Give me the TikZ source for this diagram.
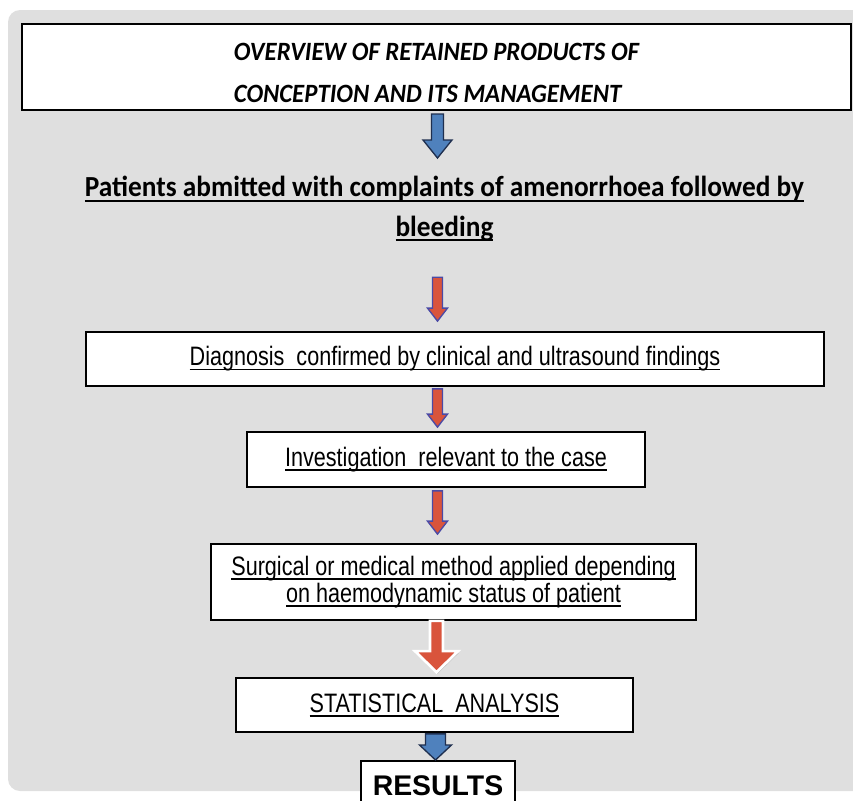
\documentclass[tikz,border=0pt]{standalone}
\usepackage{fontspec}
\setmainfont{Carlito}
\newfontfamily\slidefont[FakeStretch=0.94]{Carlito}
\newfontfamily\narrowfont[FakeStretch=0.81]{Liberation Sans}
\newfontfamily\arialfont{Liberation Sans}
\usetikzlibrary{calc,shadows}
\newcommand{\px}{0.75pt}
\definecolor{slidegray}{HTML}{DFDFDF}
\definecolor{arrowblue}{HTML}{4F81BD}
\definecolor{arrowedge}{HTML}{1F2F4F}
\definecolor{arrowred}{HTML}{D9543C}
\definecolor{arrowpurple}{HTML}{4A4AA6}
% underlined line of text
\newcommand{\uln}[1]{\setbox0\hbox{#1}\rlap{\rule[-0.17em]{\wd0}{1.3pt}}\box0}
% block arrow: style, start, end, shaft half width, head half width, head length
\newcommand{\blockarrow}[6]{%
    \path[#1] ($(#2)+(-#4,0)$) -- ($(#2)+(#4,0)$) -- ($(#3)+(#4,-#6)$) -- ($(#3)+(#5,-#6)$)
        -- (#3) -- ($(#3)+(-#5,-#6)$) -- ($(#3)+(-#4,-#6)$) -- cycle;}

\begin{document}
\begin{tikzpicture}[x=\px,y=-\px,
    box/.style={draw=black,line width=1.3pt,fill=white,inner sep=0pt,align=center,
        font=\narrowfont\fontsize{20}{20.5}\selectfont},
    bluearrow/.style={fill=arrowblue,draw=arrowedge,line width=1pt},
    redarrow/.style={fill=arrowred,draw=arrowpurple,line width=1pt},
    bigredarrow/.style={fill=arrowred,draw=white,line width=2pt,
        drop shadow={opacity=0.35,shadow xshift=0.8pt,shadow yshift=-1.2pt}}]
    \useasboundingbox (0,0) rectangle (853,800);
    \clip (0,0) rectangle (853,800);
    \fill[slidegray,rounded corners=9pt] (8,10) rectangle (880,791);

    \node[box,line width=1.6pt,minimum width=829*\px,minimum height=86*\px,
        font=\slidefont\bfseries\itshape\fontsize{19.8}{31.5}\selectfont] (title) at (436.5,67)
        {\raisebox{-4.3pt}[\height][\depth]{\begin{tabular}{@{}l@{}}OVERVIEW OF RETAINED PRODUCTS OF\\CONCEPTION AND ITS MANAGEMENT\end{tabular}}};
    \node[inner sep=0pt,align=center,font=\slidefont\bfseries\fontsize{21.8}{29.5}\selectfont,anchor=north] (patients) at (444.5,176)
        {\uln{Patients abmitted with complaints of amenorrhoea followed by}\\\uln{bleeding}};
    \node[box,minimum width=738*\px,minimum height=54*\px] (diag) at (455,359)
        {\uln{Diagnosis\ \ confirmed by clinical and ultrasound findings}};
    \node[box,minimum width=398*\px,minimum height=55*\px] (invest) at (446,459.5)
        {\uln{Investigation\ \ relevant to the case}};
    \node[box,minimum width=485*\px,minimum height=76*\px] (method) at (453.5,582)
        {\uln{Surgical or medical method applied depending}\\\uln{on haemodynamic status of patient}};
    \node[box,minimum width=397*\px,minimum height=54*\px] (stats) at (434.5,705)
        {\uln{STATISTICAL\ \ ANALYSIS}};
    \node[box,anchor=north,minimum width=154*\px,minimum height=60*\px,text depth=8pt,
        font=\arialfont\bfseries\fontsize{21.3}{24}\selectfont] (results) at (438,760) {RESULTS};

    % arrows between the steps
    \coordinate (axis) at (437.5,0);
    \coordinate (a1s) at ($(axis|-title.south)+(0,3)$);
    \coordinate (a1e) at ($(axis|-patients.north)+(0,-18)$);
    \coordinate (a2s) at ($(axis|-patients.south)+(0,36)$);
    \coordinate (a2e) at ($(axis|-diag.north)+(0,-10)$);
    \coordinate (a3s) at ($(axis|-diag.south)+(0,2)$);
    \coordinate (a3e) at ($(axis|-invest.north)+(0,-4)$);
    \coordinate (a4s) at ($(axis|-invest.south)+(0,3)$);
    \coordinate (a4e) at ($(axis|-method.north)+(0,-9)$);
    \coordinate (a5s) at ($(axis|-method.south)+(-1,0)$);
    \coordinate (a5e) at ($(axis|-stats.north)+(-1,-5)$);
    \coordinate (a6s) at ($(axis|-stats.south)+(-2,1)$);
    \coordinate (a6e) at ($(axis|-results.north)+(-2,0)$);
    \blockarrow{bluearrow}{a1s}{a1e}{6}{14.5}{18}
    \blockarrow{redarrow}{a2s}{a2e}{5}{10}{13}
    \blockarrow{redarrow}{a3s}{a3e}{5}{10}{13}
    \blockarrow{redarrow}{a4s}{a4e}{5}{10}{13}
    \blockarrow{bigredarrow}{a5s}{a5e}{6.5}{21.5}{21}
    \blockarrow{bluearrow}{a6s}{a6e}{10}{16}{15}
\end{tikzpicture}
\end{document}
